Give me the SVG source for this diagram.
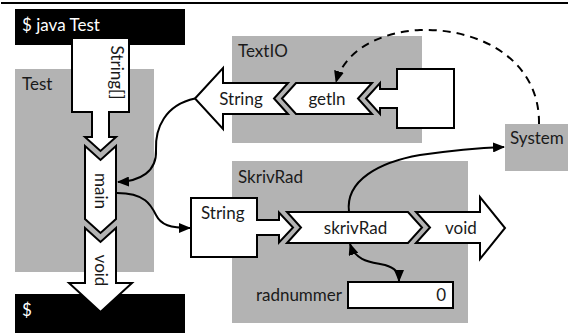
<svg xmlns="http://www.w3.org/2000/svg" width="569" height="333" viewBox="0 0 569 333">
<defs>
<style>
.box{fill:#b3b3b3}
.blk{fill:#000}
.sh{fill:#fff;stroke:#000;stroke-width:2;stroke-linejoin:miter}
.t{font-family:Lato,"Liberation Sans",sans-serif;font-size:17px;fill:#1a1a1a}
.w{fill:#fff}
.c{fill:none;stroke:#000;stroke-width:2}
.d{stroke-dasharray:8 6}
</style>
<marker id="ah" viewBox="0 0 12 10" refX="11" refY="5" markerWidth="12" markerHeight="10" markerUnits="userSpaceOnUse" orient="auto-start-reverse">
<path d="M0,0 L12,5 L0,10 Z" fill="#000"/>
</marker>
</defs>
<line x1="1" y1="3" x2="568" y2="3" stroke="#000" stroke-width="2"/>

<g id="test">
<rect class="box" x="15" y="69" width="139" height="203"/>
<text class="t" x="22" y="90">Test</text>
</g>
<g id="textio">
<rect class="box" x="232" y="36" width="190" height="107"/>
<text class="t" x="238" y="57">TextIO</text>
</g>
<g id="skrivrad">
<rect class="box" x="232" y="161" width="236" height="162"/>
<text class="t" x="238" y="183">SkrivRad</text>
</g>
<g id="system">
<rect class="box" x="505" y="124" width="63" height="47"/>
<text class="t" x="510" y="144">System</text>
</g>

<g id="java-cmd">
<rect class="blk" x="15" y="9" width="170" height="36"/>
<text class="t w" x="22" y="31">$ java Test</text>
</g>
<g id="prompt">
<rect class="blk" x="15" y="294" width="170" height="39"/>
<text class="t w" x="22" y="316">$</text>
</g>

<g id="args">
<path class="sh" d="M72,38 H129 V112 H109 V137 H116 L100.5,151 L85,137 H92 V112 H72 Z"/>
<text class="t" transform="translate(111,72.5) rotate(90)" text-anchor="middle">String[]</text>
</g>
<g id="main">
<path class="sh" d="M85,146 L100.5,160 L116,146 V219 L100.5,233 L85,219 Z"/>
<text class="t" transform="translate(95,191) rotate(90)" text-anchor="middle">main</text>
</g>
<g id="main-void">
<path class="sh" d="M85,228 L100.5,242 L116,228 V283 H132 L100.5,312 L69,283 H85 Z"/>
<text class="t" transform="translate(95,270.5) rotate(90)" text-anchor="middle">void</text>
</g>

<g id="getln-string">
<path class="sh" d="M195,98.5 L223,68 V83 H288 L274,98.5 L288,114 H223 V129 Z"/>
<text class="t" x="241" y="105" text-anchor="middle">String</text>
</g>
<g id="getln">
<path class="sh" d="M282,98.5 L296,83 H372 L358,98.5 L372,114 H296 Z"/>
<text class="t" x="327" y="105" text-anchor="middle">getln</text>
</g>
<g id="getln-input">
<path class="sh" d="M366,98.5 L380,83 V89 H397 V69 H454 V128 H397 V108 H380 V114 Z"/>
</g>

<g id="skrivrad-string">
<path class="sh" d="M191,198 H257 V220 H279 V212.5 L293,227.5 L279,242.5 V235 H257 V257 H191 Z"/>
<text class="t" x="201" y="219">String</text>
</g>
<g id="skrivrad-method">
<path class="sh" d="M287,212 H408 L422,227.5 L408,243 H287 L301,227.5 Z"/>
<text class="t" x="355.5" y="234" text-anchor="middle">skrivRad</text>
</g>
<g id="skrivrad-void">
<path class="sh" d="M416,212 H480 V197 L505,228 L480,259 V243 H416 L430,227.5 Z"/>
<text class="t" x="445" y="234">void</text>
</g>
<g id="radnummer">
<rect class="sh" x="348" y="282" width="105" height="26"/>
<text class="t" x="342" y="301" text-anchor="end">radnummer</text>
<text class="t" x="446" y="301" text-anchor="end">0</text>
</g>

<g id="connectors">
<path class="c" d="M195,98.5 C165,105 155,128 156,150 C157,172 140,181 118,182" marker-end="url(#ah)"/>
<path class="c" d="M117,193 C145,193 151,205 156,215 C161,225 170,228 190,228" marker-end="url(#ah)"/>
<path class="c" d="M349,212 C345,180 380,162 420,155 C455,150 480,148 504,147" marker-end="url(#ah)"/>
<path class="c d" d="M539,124 C540,60 480,28 420,30 C380,32 345,50 336,82" marker-end="url(#ah)"/>
<path class="c" d="M350,244 C356,262 372,262 385,265 C395,268 399,272 399,281" marker-start="url(#ah)" marker-end="url(#ah)"/>
</g>
</svg>
